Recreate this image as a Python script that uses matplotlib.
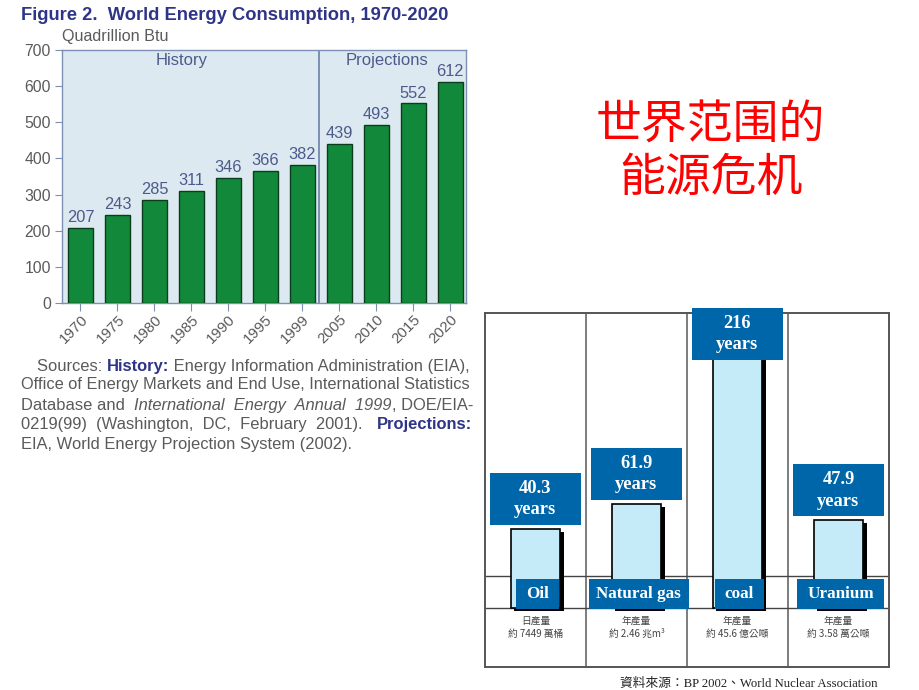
import matplotlib
matplotlib.use("Agg")
import matplotlib.pyplot as plt
from matplotlib.patches import Rectangle
from matplotlib.text import Annotation
import matplotlib.patheffects as pe

# ---------------- data ----------------
years = ['1970', '1975', '1980', '1985', '1990', '1995', '1999', '2005', '2010', '2015', '2020']
consumption = [207, 243, 285, 311, 346, 366, 382, 439, 493, 552, 612]
n_history = 7
y_ticks = [0, 100, 200, 300, 400, 500, 600, 700]

resources = ['Oil', 'Natural gas', 'coal', 'Uranium']
reserve_years = [40.3, 61.9, 216, 47.9]
reserve_labels = ['40.3', '61.9', '216', '47.9']
production_kind = ['日產量', '年產量', '年產量', '年產量']
production_amount = ['約 7449 萬桶', '約 2.46 兆m³', '約 45.6 億公噸', '約 3.58 萬公噸']

title_left = 'Figure 2.  World Energy Consumption, 1970-2020'
unit_label = 'Quadrillion Btu'
red_title = ['世界范围的', '能源危机']
source_right = '資料來源：BP 2002、World Nuclear Association'

GRAY = '#5a5a5a'
NAVY = '#2e3488'
SLATE = '#4c5a8c'
sources_lines = [
    [('Sources: ', 'n'), ('History:', 'b'), (' Energy Information Administration (EIA),', 'n')],
    [('Office of Energy Markets and End Use, International Statistics', 'n')],
    [('Database and  ', 'n'), ('International  Energy  Annual  1999', 'i'), (', DOE/EIA-', 'n')],
    [('0219(99)  (Washington,  DC,  February  2001).   ', 'n'), ('Projections:', 'b')],
    [('EIA, World Energy Projection System (2002).', 'n')],
]

W, H = 920, 690
fig = plt.figure(figsize=(W / 100, H / 100), dpi=100)
fig.patch.set_facecolor('white')

def fx(px):
    return px / W

def fy(py):
    return 1 - py / H

SANS = 'Liberation Sans'
SERIF = 'Liberation Serif'

# ---------------- left chart ----------------
ax = fig.add_axes([fx(62), fy(303), fx(466) - fx(62), fy(50) - fy(303)])
ax.set_facecolor('#dde9f0')
xs = list(range(len(years)))
ax.bar(xs, consumption, width=0.68, color='#12893a', edgecolor='#0b3d1c', linewidth=1.0, zorder=3)
for x, v in zip(xs, consumption):
    ax.text(x, v + 8, str(v), ha='center', va='bottom', fontsize=11.8, color=SLATE,
            family=SANS, zorder=4)
ax.set_xlim(-0.5, len(years) - 0.57)
ax.set_ylim(0, 700)
ax.set_yticks(y_ticks)
ax.set_yticklabels([str(t) for t in y_ticks], fontsize=11.3, color=GRAY, family=SANS)
ax.set_xticks(xs)
ax.set_xticklabels(years, rotation=45, ha='right', va='top', rotation_mode='anchor',
                   fontsize=10.8, color=GRAY, family=SANS)
ax.tick_params(axis='y', direction='out', length=5, color='#7d8fb3', pad=3)
ax.tick_params(axis='x', direction='out', length=6, color='#7d8fb3', pad=1)
for s in ax.spines.values():
    s.set_color('#7d8fb3')
    s.set_linewidth(1.0)
ax.axvline(n_history - 0.55, color='#6b7fa8', lw=1.2, zorder=2)
ax.text((n_history - 1.55) / 2, 670, 'History', ha='center', va='center', fontsize=12,
        color=SLATE, family=SANS)
ax.text(n_history + 1.3, 670, 'Projections', ha='center', va='center', fontsize=12,
        color=SLATE, family=SANS)

fig.text(fx(21), fy(16), title_left, ha='left', va='center', fontsize=13.2,
         fontweight='bold', color=NAVY, family=SANS)
fig.text(fx(62), fy(36), unit_label, ha='left', va='center', fontsize=11.6,
         color=GRAY, family=SANS)

# sources paragraph
line_y = [366, 385, 405, 424, 444]
line_x = [37, 21, 21, 21, 21]
line_fs = [11.9, 11.75, 11.9, 11.9, 11.9]
for parts, ly, lx, lfs in zip(sources_lines, line_y, line_x, line_fs):
    prev = None
    for txt, st in parts:
        kw = dict(fontsize=lfs, family=SANS, color=GRAY, va='center', ha='left')
        if st == 'b':
            kw.update(fontweight='bold', color=NAVY)
        elif st == 'i':
            kw.update(style='italic')
        if prev is None:
            prev = fig.text(fx(lx), fy(ly), txt, **kw)
        else:
            kw['va'] = 'bottom'
            a = Annotation(txt, xy=(1, 0), xycoords=prev, **kw)
            fig.add_artist(a)
            prev = a

# red title
fig.text(fx(710), fy(125), red_title[0], ha='center', va='center', fontsize=33,
         color='#ff0000', family='Noto Sans CJK SC')
fig.text(fx(711), fy(178), red_title[1], ha='center', va='center', fontsize=33,
         color='#ff0000', family='Noto Sans CJK SC')

# ---------------- right panel ----------------
px_top, px_bot, px_base, px_line2 = 313, 667, 576, 608
scale = 1.17  # px per year
y_top = (px_base - px_top) / scale
y_bot = -(px_bot - px_base) / scale
ax2 = fig.add_axes([fx(485), fy(px_bot), fx(889) - fx(485), fy(px_top) - fy(px_bot)])
ax2.set_xlim(0, 4)
ax2.set_ylim(y_bot, y_top)
ax2.set_xticks([])
ax2.set_yticks([])
for s in ax2.spines.values():
    s.set_color('#555555')
    s.set_linewidth(1.4)
for c in range(1, len(resources)):
    ax2.axvline(c, color='#666666', lw=1.2, zorder=1)
y_line2 = -(px_line2 - px_base) / scale
ax2.axhline(0, color='#444444', lw=1.0, zorder=1)
ax2.axhline(y_line2, color='#444444', lw=1.0, zorder=1)

centers = [i + 0.5 for i in range(len(resources))]
bars = ax2.bar(centers, [v - y_line2 for v in reserve_years], bottom=y_line2, width=0.49,
               color='#c6ebf8', edgecolor='black', linewidth=1.2, zorder=3)
for b in bars:
    b.set_path_effects([pe.SimplePatchShadow(offset=(2.5, -2.5), shadow_rgbFace='black',
                                             alpha=1.0), pe.Normal()])

box_h = 52 / scale
BLUE = '#0066aa'
for c, v, lab in zip(centers, reserve_years, reserve_labels):
    yb = min(v + 3, y_top + 4 - box_h)
    r = Rectangle((c - 0.45, yb), 0.9, box_h, facecolor=BLUE, edgecolor='none',
                  zorder=6, clip_on=False)
    ax2.add_patch(r)
    ax2.text(c, yb + box_h / 2, lab + '\nyears', ha='center', va='center', color='white',
             fontsize=13.3, fontweight='bold', family=SERIF, linespacing=1.32, zorder=7,
             clip_on=False)

# name boxes sized from the rendered text
renderer = fig.canvas.get_renderer()
px_per_unit_x = (889 - 485) / 4
name_y = -((579 + 609) / 2 - px_base) / scale
name_h = 30 / scale
for c, name in zip(centers, resources):
    t = ax2.text(c + 0.02, name_y, name, ha='center', va='center', color='white',
                 fontsize=12.3, fontweight='bold', family=SERIF, zorder=8)
    tw = t.get_window_extent(renderer=renderer).width
    bw = min(tw + 20, 100) / px_per_unit_x
    ax2.add_patch(Rectangle((c + 0.02 - bw / 2, name_y - name_h / 2), bw, name_h,
                            facecolor=BLUE, edgecolor='none', zorder=7))

note_y1 = -(621 - px_base) / scale
note_y2 = -(634 - px_base) / scale
for c, k, amt in zip(centers, production_kind, production_amount):
    ax2.text(c, note_y1, k, ha='center', va='center', fontsize=7, color='#444444',
             family=['Noto Sans CJK TC', 'DejaVu Sans'])
    ax2.text(c, note_y2, amt, ha='center', va='center', fontsize=7, color='#444444',
             family=['Noto Sans CJK TC', 'DejaVu Sans'])

fig.text(fx(878), fy(684), source_right, ha='right', va='center', fontsize=9.2,
         color='#222222', family=[SERIF, 'Noto Sans CJK TC'])

fig.savefig('out.png', dpi=100, facecolor='white')
